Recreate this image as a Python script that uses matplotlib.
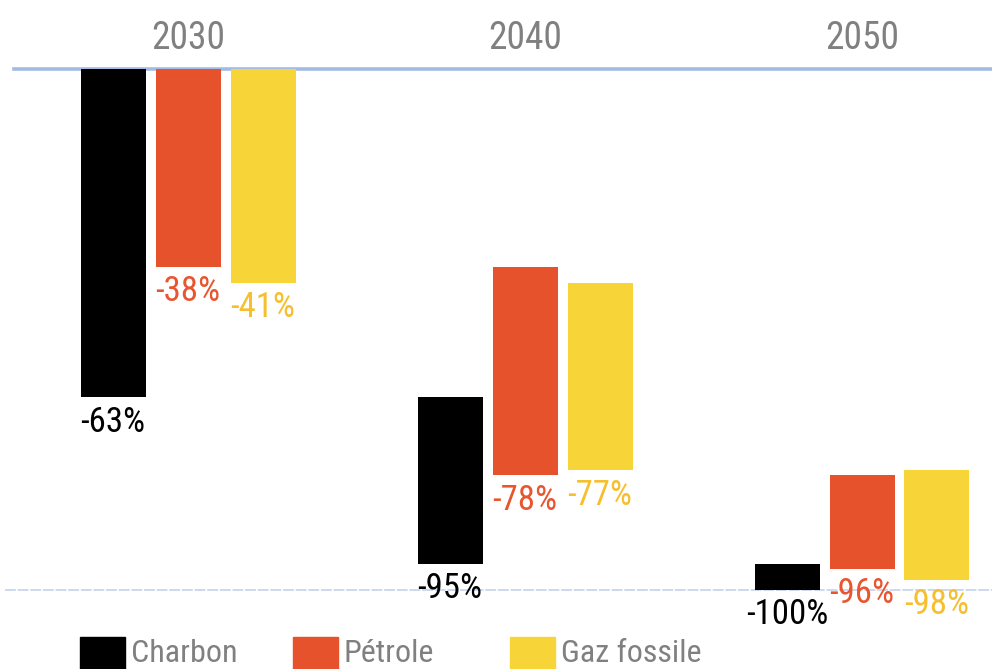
import matplotlib
matplotlib.use("Agg")
import matplotlib.pyplot as plt
from matplotlib import font_manager
from matplotlib.patches import Rectangle

# ---- data ----
years = ["2030", "2040", "2050"]
series = ["Charbon", "Pétrole", "Gaz fossile"]
charbon = [-63, -95, -100]
petrole = [-38, -78, -96]
gaz = [-41, -77, -98]
labels_charbon = ["-63%", "-95%", "-100%"]
labels_petrole = ["-38%", "-78%", "-96%"]
labels_gaz = ["-41%", "-77%", "-98%"]

colors = ["#000000", "#e5522b", "#f7d538"]
label_colors = ["#000000", "#e8552f", "#f6bf2e"]

# font choice: prefer a narrow font
avail = {f.name for f in font_manager.fontManager.ttflist}
family = "DejaVu Sans"
for cand in ["Roboto Condensed", "Liberation Sans Narrow", "DejaVu Sans Condensed"]:
    if cand in avail:
        family = cand
        break
plt.rcParams["font.family"] = [family, "DejaVu Sans"]

W, H = 992, 669
fig = plt.figure(figsize=(W / 100, H / 100), dpi=100)

# axes in pixel geometry
ax_left, ax_right = 5, 992
ax_top, ax_bottom = 40, 630
ax = fig.add_axes([ax_left / W, 1 - ax_bottom / H, (ax_right - ax_left) / W, (ax_bottom - ax_top) / H])

spacing = 337.0
group_px = 188.0
x0 = -(group_px - ax_left) / spacing
x1 = (ax_right - group_px) / spacing
ax.set_xlim(x0, x1)

ppu = 5.21  # px per percent
zero_px = 69
ax.set_ylim(-(ax_bottom - zero_px) / ppu, (zero_px - ax_top) / ppu)
ax.axis("off")

ax.axhline(0, color="#a3bbe3", lw=2.6, zorder=1, xmin=(14 - ax_left) / (ax_right - ax_left))
ax.axhline(-100, color="#c8d5ee", lw=1.3, ls=(0, (6, 1)), zorder=0)

width = 65 / spacing
offset = 75 / spacing
all_series = [charbon, petrole, gaz]
all_labels = [labels_charbon, labels_petrole, labels_gaz]
for si, (vals, labs) in enumerate(zip(all_series, all_labels)):
    prev = 0
    for gi, v in enumerate(vals):
        xc = gi + (si - 1) * offset
        ax.bar(xc, v - prev, bottom=prev, width=width, color=colors[si], zorder=2)
        ax.annotate(labs[gi], (xc, v), xytext=(0, -6), textcoords="offset points",
                    ha="center", va="top", fontsize=25, color=label_colors[si], zorder=3)
        prev = v

for gi, y in enumerate(years):
    ax.text(gi, (zero_px - 49) / ppu, y, ha="center", va="baseline",
            fontsize=27, color="#808080")

# legend at bottom
leg_x = [80, 293, 510]
for i, name in enumerate(series):
    fig.add_artist(Rectangle((leg_x[i] / W, 0), 45 / W, 32 / H, transform=fig.transFigure,
                             color=colors[i]))
    fig.text((leg_x[i] + 51) / W, 0.5 / H, name, ha="left", va="bottom",
             fontsize=23, color="#808080")

fig.savefig("out.png", dpi=100)
